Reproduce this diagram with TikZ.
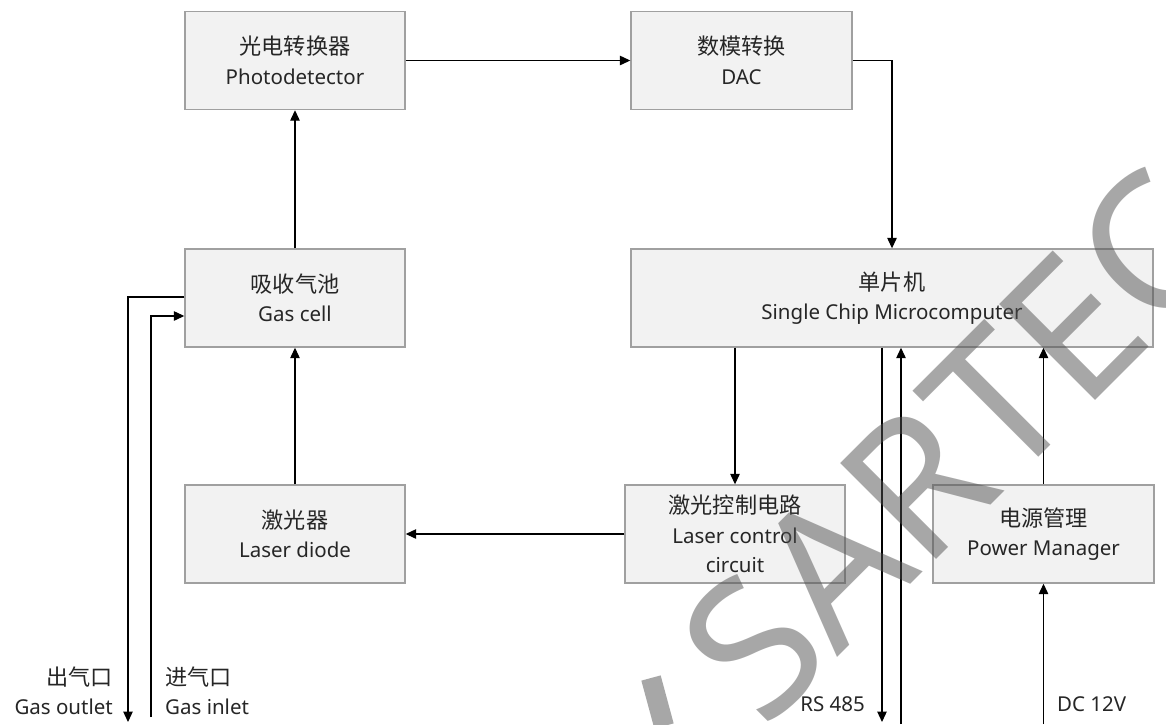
\documentclass[tikz,border=0pt]{standalone}
\usepackage{fontspec}
\setmainfont{Noto Sans}
\newfontfamily\cjk[Scale=1.08]{Noto Sans CJK SC}
\usetikzlibrary{arrows.meta}
\definecolor{boxfill}{HTML}{F2F2F2}
\definecolor{boxline}{HTML}{A0A0A0}
\definecolor{txt}{HTML}{262626}
\definecolor{wm}{HTML}{515151}
\begin{document}
\begin{tikzpicture}[x=1pt,y=-1pt,
  blk/.style={draw=boxline,line width=1.4pt,fill=boxfill,minimum width=220pt,minimum height=98pt,
    inner sep=0pt,align=center,text=txt,font=\fontsize{20.5}{29.5}\selectfont},
  wire/.style={draw=black,line width=1.2pt},
  arr/.style={wire,-{Triangle[length=10.5pt,width=9.5pt]}},
  lab/.style={text=txt,font=\fontsize{20.5}{29.5}\selectfont,inner sep=0pt}]
\useasboundingbox[fill=white] (0,0) rectangle (1166,724);
% blocks
\node[blk] (pd) at (295,60.5) {{\cjk 光电转换器}\\Photodetector};
\node[blk,minimum width=221pt] (dac) at (741.5,60.5) {{\cjk 数模转换}\\DAC};
\node[blk] (gc) at (295,298) {{\cjk 吸收气池}\\Gas cell};
\node[blk,minimum width=522pt] (scm) at (892,298) {{\cjk 单片机}\\Single Chip Microcomputer};
\node[blk] (ld) at (295,534) {{\cjk 激光器}\\Laser diode};
\node[blk] (lcc) at (735,534) {{\cjk 激光控制电路}\\Laser control\\circuit};
\node[blk,minimum width=221pt] (pm) at (1043.5,534) {{\cjk 电源管理}\\Power Manager};
% free ends
\coordinate (outc) at (128,297);
\coordinate (outend) at (128,722);
\coordinate (inend) at (151,717);
\coordinate (inc) at (151,316);
\coordinate (rsd) at (882,722);
\coordinate (rsu) at (901,724);
\coordinate (dcin) at (1043.5,724);
% connectors
\draw[arr] (pd.east) -- (dac.west);
\draw[arr] (dac.east) -| (scm.north);
\draw[arr] (gc.north) -- (pd.south);
\draw[arr] (ld.north) -- (gc.south);
\draw[arr] (lcc.west) -- (ld.east);
\draw[arr] (scm.south -| lcc.north) -- (lcc.north);
\draw[arr] (pm.north) -- (pm.north |- scm.south);
\draw[arr] (rsd |- scm.south) -- (rsd);
\draw[arr] (rsu) -- (rsu |- scm.south);
\draw[arr] (dcin) -- (pm.south);
\draw[arr] (gc.west |- outc) -- (outc) -- (outend);
\draw[arr] (inend) -- (inc) -- (gc.west |- inc);
% labels
\node[lab,anchor=east,align=right] (outlab) at (113,691) {{\cjk 出气口}\\Gas outlet};
\node[lab,anchor=west,align=left] (inlab) at (165,691) {{\cjk 进气口}\\Gas inlet};
\node[lab,anchor=east] (rslab) at (865,704) {RS 485};
\node[lab,anchor=west] (dclab) at (1057,704) {DC 12V};
% watermark
\begin{scope}[opacity=0.5]
\node[text=wm,rotate=45,inner sep=0pt,font=\fontsize{190}{190}\selectfont] (wmark) at (955,445) {SARTEC};
\draw[wm,line width=20pt] (651,678) -- (664,726);
\end{scope}
\end{tikzpicture}
\end{document}
